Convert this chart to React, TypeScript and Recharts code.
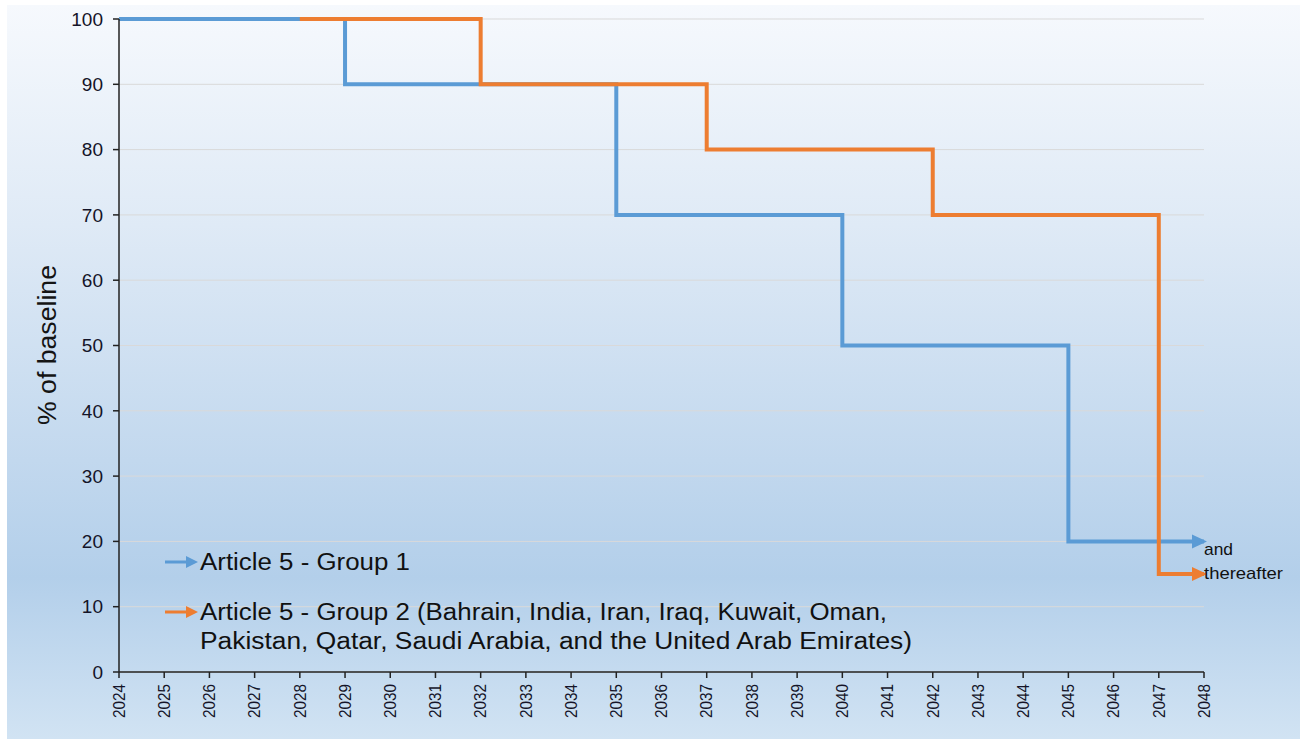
import React from 'react';
import { LineChart, Line, XAxis, YAxis, CartesianGrid } from 'recharts';

const years = [2024, 2025, 2026, 2027, 2028, 2029, 2030, 2031, 2032, 2033, 2034, 2035, 2036, 2037, 2038, 2039, 2040, 2041, 2042, 2043, 2044, 2045, 2046, 2047, 2048];
const yTicks = [0, 10, 20, 30, 40, 50, 60, 70, 80, 90, 100];

const group1Years = [2024, 2029, 2035, 2040, 2045, 2048];
const group1Values = [100, 90, 70, 50, 20, 20];
const group2Years = [2028, 2032, 2037, 2042, 2047, 2048];
const group2Values = [100, 90, 80, 70, 15, 15];

const group1 = group1Years.map((year, i) => ({ year, value: group1Values[i] }));
const group2 = group2Years.map((year, i) => ({ year, value: group2Values[i] }));

const BLUE = '#5b9bd5';
const ORANGE = '#ed7d31';
const FONT = '"Liberation Sans", Arial, sans-serif';

const arrowDot = (color: string, lastIndex: number) => (props: any) => {
    const { cx, cy, index } = props;
    if (index !== lastIndex) return <g key={`d-${index}`} />;
    return <path key={`d-${index}`} d={`M${cx + 3},${cy} L${cx - 12},${cy - 7} L${cx - 12},${cy + 7} Z`} fill={color} />;
};

const YearTick = (props: any) => {
    const { x, y, payload } = props;
    return (
        <text x={0} y={0} transform={`translate(${x},${y + 4}) rotate(-90)`} textAnchor="end" dy="0.36em"
            fontSize={16} textLength={34} lengthAdjust="spacingAndGlyphs" fontFamily={FONT} fill="#141428">
            {payload.value}
        </text>
    );
};

const LegendArrow = ({ x, y, color }: { x: number; y: number; color: string }) => (
    <g>
        <line x1={x} y1={y} x2={x + 22} y2={y} stroke={color} strokeWidth={3} />
        <path d={`M${x + 33},${y} L${x + 21},${y - 6} L${x + 21},${y + 6} Z`} fill={color} />
    </g>
);

const App: React.FC = () => {
    return (
        <div style={{ position: 'absolute', left: 0, top: 0, width: 1303, height: 740 }}>
            <div style={{
                position: 'absolute', left: 7, top: 5, width: 1293, height: 734,
                background: 'linear-gradient(180deg, #f6f9fd 0%, #dfeaf6 30%, #c2d8ee 62%, #b3cfea 78%, #d1e3f3 100%)'
            }} />
            <div style={{ position: 'absolute', left: 7, top: 5 }}>
                <LineChart width={1293} height={734} margin={{ top: 14, right: 96, left: 0, bottom: 17 }}>
                    <CartesianGrid vertical={false} stroke="#d9d9d9" strokeWidth={1} />
                    <XAxis dataKey="year" type="number" domain={[2024, 2048]} ticks={years} interval={0}
                        allowDuplicatedCategory={false} height={50} tick={<YearTick />} tickSize={6}
                        axisLine={{ stroke: '#222', strokeWidth: 1.5 }} tickLine={{ stroke: '#222', strokeWidth: 1.5 }} />
                    <YAxis type="number" domain={[0, 100]} ticks={yTicks} width={112} tickSize={6} tickMargin={10}
                        tick={{ fontSize: 19, fontFamily: FONT, fill: '#141428' }}
                        axisLine={{ stroke: '#222', strokeWidth: 1.5 }} tickLine={{ stroke: '#222', strokeWidth: 1.5 }} />
                    <Line data={group1} dataKey="value" type="stepAfter" stroke={BLUE} strokeWidth={4}
                        strokeLinejoin="miter" dot={arrowDot(BLUE, group1.length - 1)} activeDot={false}
                        isAnimationActive={false} />
                    <Line data={group2} dataKey="value" type="stepAfter" stroke={ORANGE} strokeWidth={4}
                        strokeLinejoin="miter" dot={arrowDot(ORANGE, group2.length - 1)} activeDot={false}
                        isAnimationActive={false} />
                </LineChart>
            </div>
            <svg width={1303} height={740} style={{ position: 'absolute', left: 0, top: 0, pointerEvents: 'none' }}>
                <text x={0} y={0} transform="translate(56,345) rotate(-90)" textAnchor="middle"
                    fontSize={25} textLength={160} lengthAdjust="spacingAndGlyphs" fontFamily={FONT} fill="#141414">% of baseline</text>
                <LegendArrow x={165} y={562} color={BLUE} />
                <text x={200} y={570} fontSize={23} textLength={210} lengthAdjust="spacingAndGlyphs"
                    fontFamily={FONT} fill="#111">Article 5 - Group 1</text>
                <LegendArrow x={165} y={612} color={ORANGE} />
                <text x={200} y={620} fontSize={23} textLength={687} lengthAdjust="spacingAndGlyphs"
                    fontFamily={FONT} fill="#111">Article 5 - Group 2 (Bahrain, India, Iran, Iraq, Kuwait, Oman,</text>
                <text x={200} y={649} fontSize={23} textLength={712} lengthAdjust="spacingAndGlyphs"
                    fontFamily={FONT} fill="#111">Pakistan, Qatar, Saudi Arabia, and the United Arab Emirates)</text>
                <text x={1204} y={555} fontSize={17} textLength={29} lengthAdjust="spacingAndGlyphs"
                    fontFamily={FONT} fill="#111">and</text>
                <text x={1204} y={579} fontSize={17} textLength={79} lengthAdjust="spacingAndGlyphs"
                    fontFamily={FONT} fill="#111">thereafter</text>
            </svg>
        </div>
    );
};

export default App;
